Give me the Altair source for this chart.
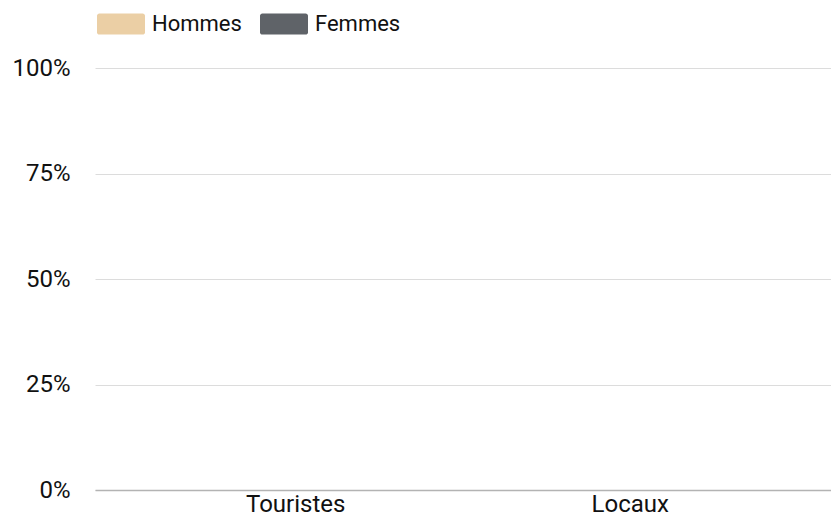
import altair as alt
import pandas as pd

categories = ["Touristes", "Locaux"]
series = ["Hommes", "Femmes"]
hommes = [0, 0]
femmes = [0, 0]
colors = ["#ebcfa5", "#5f6368"]
y_ticks = [0, 0.25, 0.5, 0.75, 1.0]

rows = []
for i, c in enumerate(categories):
    rows.append({"cat": c, "sex": "Hommes", "val": hommes[i], "ord": 0})
    rows.append({"cat": c, "sex": "Femmes", "val": femmes[i], "ord": 1})
df = pd.DataFrame(rows)

FONT = "Roboto"
swatch = ("M-0.9,-0.44H0.9A0.1,0.1 0 0 1 1,-0.34V0.34A0.1,0.1 0 0 1 0.9,0.44"
          "H-0.9A0.1,0.1 0 0 1 -1,0.34V-0.34A0.1,0.1 0 0 1 -0.9,-0.44Z")

chart = alt.Chart(df).mark_bar().encode(
    x=alt.X("cat:N", sort=categories, title=None,
            scale=alt.Scale(paddingInner=0.3, paddingOuter=0.25),
            axis=alt.Axis(labelAngle=0, ticks=False, domainColor="#b3b3b3",
                          domainWidth=1.5, labelPadding=21,
                          labelBaseline="alphabetic", labelFontSize=24,
                          labelColor="#111111", labelFont=FONT)),
    y=alt.Y("val:Q", stack="zero", title=None,
            scale=alt.Scale(domain=[0, 1]),
            axis=alt.Axis(values=y_ticks, format=".0%", domain=False, ticks=False,
                          labelPadding=25, labelFontSize=24, labelColor="#111111",
                          labelFont=FONT, gridColor="#dcdcdc")),
    color=alt.Color("sex:N", sort=series, title=None,
                    scale=alt.Scale(domain=series, range=colors),
                    legend=alt.Legend(orient="none", legendX=2, legendY=-68,
                                      direction="horizontal",
                                      symbolType=swatch,
                                      symbolSize=2304, symbolStrokeWidth=0,
                                      symbolOpacity=1,
                                      labelFontSize=22, labelFont=FONT,
                                      labelColor="#111111", labelOffset=7,
                                      columnPadding=17)),
    order=alt.Order("ord:Q"),
).properties(
    width=736, height=422,
    padding={"left": 87, "top": 60, "right": 0, "bottom": 26},
    autosize=alt.AutoSizeParams(type="none"),
).configure_view(stroke=None)

chart.save("out.html", embed_options={"renderer": "svg", "actions": False})
